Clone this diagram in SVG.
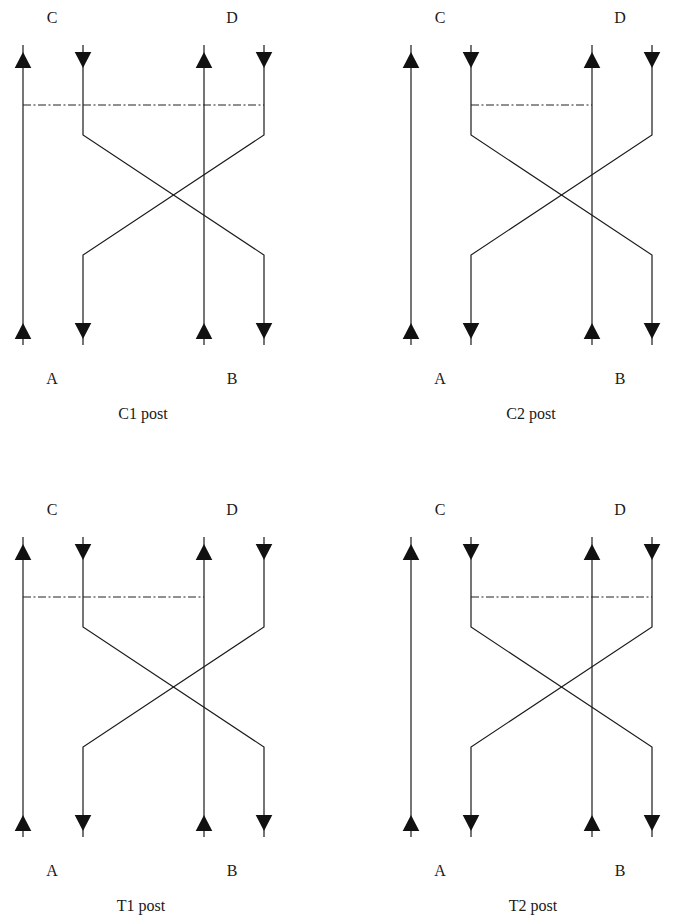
<svg xmlns="http://www.w3.org/2000/svg" xmlns:xlink="http://www.w3.org/1999/xlink" width="674" height="920" viewBox="0 0 674 920">
  <style>
    .wire { fill: none; stroke: #1a1a1a; stroke-width: 1.2; }
    .sep { fill: none; stroke: #222; stroke-width: 1.1; stroke-dasharray: 8 2.5 2 2.5; }
    .lbl { font-family: "Liberation Serif", "Times New Roman", serif; font-size: 16px; fill: #1a1a1a; text-anchor: middle; }
    .head { fill: #111; }
  </style>
  <defs>
    <!-- filled heads: tip at origin -->
    <path id="up" class="head" d="M0 0 L8.3 16 L-8.3 16 Z"/>
    <path id="down" class="head" d="M0 0 L8.3 -16 L-8.3 -16 Z"/>
    <!-- shared four-conductor layout with crossover -->
    <g id="pair">
      <line class="wire" x1="23" y1="45" x2="23" y2="345"/>
      <line class="wire" x1="204" y1="45" x2="204" y2="345"/>
      <polyline class="wire" points="83,45 83,135 264,255 264,345"/>
      <polyline class="wire" points="264,45 264,135 83,255 83,345"/>
      <use xlink:href="#up" x="23" y="52"/>
      <use xlink:href="#up" x="204" y="52"/>
      <use xlink:href="#down" x="83" y="68"/>
      <use xlink:href="#down" x="264" y="68"/>
      <use xlink:href="#up" x="23" y="323"/>
      <use xlink:href="#up" x="204" y="323"/>
      <use xlink:href="#down" x="83" y="339"/>
      <use xlink:href="#down" x="264" y="339"/>
    </g>
  </defs>

  <!-- C1 post -->
  <g id="c1-post">
    <g id="c1-connectors"><use xlink:href="#pair"/><line class="sep" x1="23" y1="105" x2="264" y2="105"/></g>
    <g id="c1-C"><text class="lbl" x="52" y="23">C</text></g>
    <g id="c1-D"><text class="lbl" x="232" y="23">D</text></g>
    <g id="c1-A"><text class="lbl" x="52" y="384">A</text></g>
    <g id="c1-B"><text class="lbl" x="232" y="384">B</text></g>
    <g id="c1-title"><text class="lbl" x="143" y="419">C1 post</text></g>
  </g>

  <!-- C2 post -->
  <g id="c2-post" transform="translate(388,0)">
    <g id="c2-connectors"><use xlink:href="#pair"/><line class="sep" x1="83" y1="105" x2="204" y2="105"/></g>
    <g id="c2-C"><text class="lbl" x="52" y="23">C</text></g>
    <g id="c2-D"><text class="lbl" x="232" y="23">D</text></g>
    <g id="c2-A"><text class="lbl" x="52" y="384">A</text></g>
    <g id="c2-B"><text class="lbl" x="232" y="384">B</text></g>
    <g id="c2-title"><text class="lbl" x="143" y="419">C2 post</text></g>
  </g>

  <!-- T1 post -->
  <g id="t1-post" transform="translate(0,492)">
    <g id="t1-connectors"><use xlink:href="#pair"/><line class="sep" x1="23" y1="105" x2="204" y2="105"/></g>
    <g id="t1-C"><text class="lbl" x="52" y="23">C</text></g>
    <g id="t1-D"><text class="lbl" x="232" y="23">D</text></g>
    <g id="t1-A"><text class="lbl" x="52" y="384">A</text></g>
    <g id="t1-B"><text class="lbl" x="232" y="384">B</text></g>
    <g id="t1-title"><text class="lbl" x="141" y="419">T1 post</text></g>
  </g>

  <!-- T2 post -->
  <g id="t2-post" transform="translate(388,492)">
    <g id="t2-connectors"><use xlink:href="#pair"/><line class="sep" x1="83" y1="105" x2="264" y2="105"/></g>
    <g id="t2-C"><text class="lbl" x="52" y="23">C</text></g>
    <g id="t2-D"><text class="lbl" x="232" y="23">D</text></g>
    <g id="t2-A"><text class="lbl" x="52" y="384">A</text></g>
    <g id="t2-B"><text class="lbl" x="232" y="384">B</text></g>
    <g id="t2-title"><text class="lbl" x="145" y="419">T2 post</text></g>
  </g>
</svg>
